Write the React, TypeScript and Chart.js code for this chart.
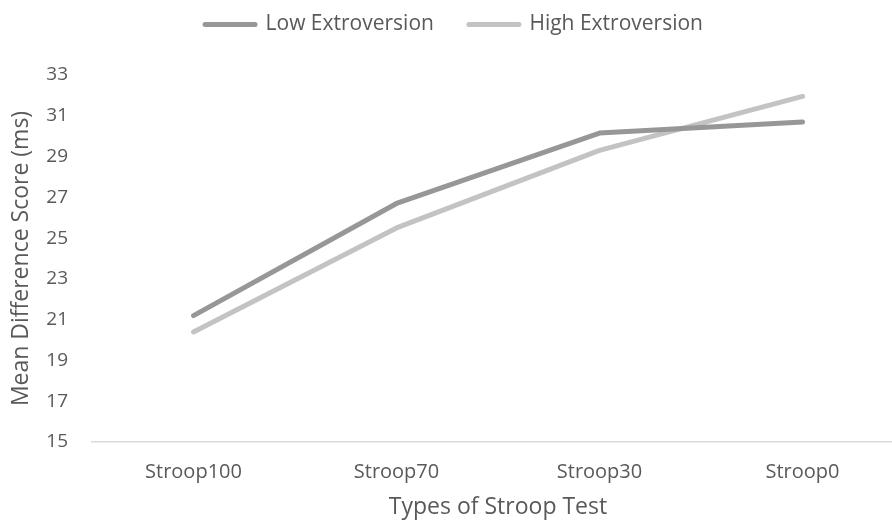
import React, { useEffect, useRef } from "react";
import { Chart, registerables } from "chart.js";

Chart.register(...registerables);

const categories = ["Stroop100", "Stroop70", "Stroop30", "Stroop0"];
const lowExtroversion = [21.2, 26.7, 30.15, 30.7];
const highExtroversion = [20.4, 25.5, 29.3, 31.95];
const seriesNames = ["Low Extroversion", "High Extroversion"];
const seriesColors = ["#979797", "#c3c3c3"];
const yMin = 15;
const yMax = 33;
const yStep = 2;
const xTitle = "Types of Stroop Test";
const yTitle = "Mean Difference Score (ms)";

const FONT = "'Open Sans', sans-serif";
const TEXT = "#595959";

export default function App() {
  const ref = useRef<HTMLCanvasElement | null>(null);

  useEffect(() => {
    if (!ref.current) return;
    const legendSpacer = {
      id: "legendSpacer",
      beforeInit(chart: any) {
        const orig = chart.legend.fit;
        chart.legend.fit = function () {
          orig.bind(chart.legend)();
          this.height += 30;
        };
      },
    };
    const chart = new Chart(ref.current, {
      type: "line",
      data: {
        labels: categories,
        datasets: [
          {
            label: seriesNames[0],
            data: lowExtroversion,
            borderColor: seriesColors[0],
            backgroundColor: seriesColors[0],
            borderWidth: 5,
            pointRadius: 0,
            pointBorderWidth: 5,
            borderCapStyle: "round",
            borderJoinStyle: "round",
            tension: 0,
          },
          {
            label: seriesNames[1],
            data: highExtroversion,
            borderColor: seriesColors[1],
            backgroundColor: seriesColors[1],
            borderWidth: 5,
            pointRadius: 0,
            pointBorderWidth: 5,
            borderCapStyle: "round",
            borderJoinStyle: "round",
            tension: 0,
          },
        ],
      },
      options: {
        animation: false,
        responsive: true,
        maintainAspectRatio: false,
        layout: { padding: { left: 4, right: 0, top: 0, bottom: 0 } },
        plugins: {
          tooltip: { enabled: false },
          legend: {
            display: true,
            position: "top",
            labels: {
              usePointStyle: true,
              pointStyle: "line",
              pointStyleWidth: 50,
              boxWidth: 50,
              padding: 14,
              color: TEXT,
              font: { family: FONT, size: 21 },
              generateLabels: (c: any) => {
                const items = (Chart.defaults as any).plugins.legend.labels.generateLabels(c);
                items.forEach((it: any, i: number) => {
                  it.lineCap = "round";
                  it.lineWidth = 5;
                  it.strokeStyle = seriesColors[i];
                  it.fillStyle = seriesColors[i];
                  if (i < items.length - 1) it.text = it.text + "\u2003";
                });
                return items;
              },
            },
          },
        },
        scales: {
          x: {
            offset: true,
            grid: { display: false, drawTicks: false, offset: true },
            border: { display: true, color: "#d9d9d9", width: 1.5 },
            ticks: {
              color: TEXT,
              font: { family: FONT, size: 20 },
              padding: 18,
              maxRotation: 0,
            },
            title: {
              display: true,
              text: xTitle,
              color: TEXT,
              font: { family: FONT, size: 23 },
              padding: { top: 0, bottom: 6 },
            },
            afterFit: (s: any) => {
              s.height = 85;
            },
          },
          y: {
            min: yMin,
            max: yMax,
            grid: { display: false, drawTicks: false },
            border: { display: false },
            ticks: {
              stepSize: yStep,
              color: TEXT,
              font: { family: FONT, size: 19 },
              padding: 24,
            },
            title: {
              display: true,
              text: yTitle,
              color: TEXT,
              font: { family: FONT, size: 23 },
              padding: { top: 4, bottom: 0 },
            },
            afterFit: (s: any) => {
              s.width = 88;
            },
          },
        },
      },
      plugins: [legendSpacer],
    });
    return () => chart.destroy();
  }, []);

  return (
    <div
      style={{
        position: "fixed",
        left: 0,
        top: 0,
        width: 904,
        height: 527,
        background: "#ffffff",
      }}
    >
      <canvas ref={ref} />
    </div>
  );
}
